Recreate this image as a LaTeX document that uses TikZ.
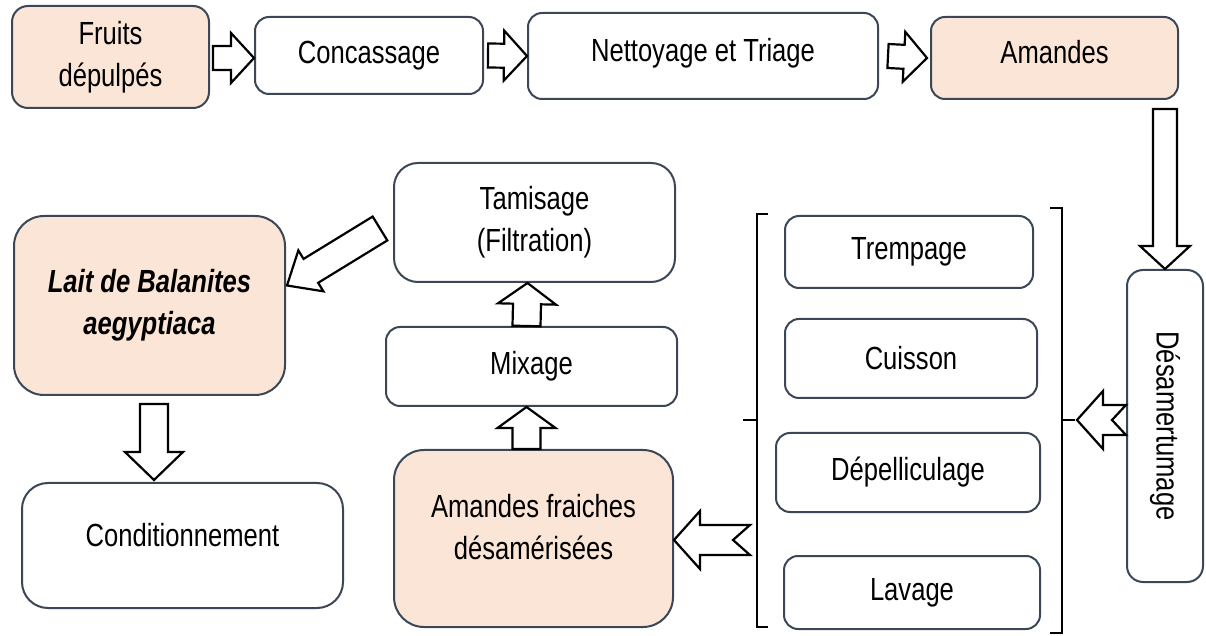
\documentclass[tikz,border=0pt]{standalone}
\usepackage{fontspec}
\setmainfont[FakeStretch=0.8]{Liberation Sans}
\usepackage{graphicx}
\usetikzlibrary{calc}

\definecolor{peach}{HTML}{FBE5D6}
\definecolor{edge}{HTML}{3B4656}

% block arrow sizes (changed before some arrows)
\def\shaftw{7pt}\def\headw{14pt}\def\headl{12.5pt}
% \blockarrow[notch]{(from)}{(to)}
\newcommand{\blockarrow}[3][0pt]{%
  \coordinate (ba-s) at #2;
  \coordinate (ba-e) at #3;
  \coordinate (ba-m) at ($(ba-e)!\headl!(ba-s)$);
  \draw[blockarrow] ($(ba-s)!\shaftw!90:(ba-e)$)
    -- ($(ba-m)!\shaftw!-90:(ba-s)$) -- ($(ba-m)!\headw!-90:(ba-s)$)
    -- (ba-e)
    -- ($(ba-m)!\headw!90:(ba-s)$) -- ($(ba-m)!\shaftw!90:(ba-s)$)
    -- ($(ba-s)!\shaftw!-90:(ba-e)$) -- ($(ba-s)!#1!(ba-e)$) -- cycle;
}

\begin{document}
\begin{tikzpicture}[
    x=0.5pt, y=-0.5pt,
    font=\fontsize{16}{21}\selectfont,
    box/.style={rectangle, rounded corners=#1, draw=edge, line width=1pt,
        fill=white, align=center, inner sep=0pt},
    box/.default=7pt,
    dims/.style 2 args={minimum width=#1*0.5pt, minimum height=#2*0.5pt},
    blockarrow/.style={draw=black, line width=1.1pt, fill=white, line join=miter},
    bracket/.style={draw=black, line width=1.1pt},
]
\useasboundingbox (0,0) rectangle (1206,636);

% top row
\node[box=8pt, fill=peach, dims={197}{102}] (fruits) at (110.5,57) {Fruits\\dépulpés};
\node[box, dims={228}{77}] (concass) at (369,55.5) {Concassage};
\node[box, dims={350}{86}, label={[yshift=1.5pt]center:Nettoyage et Triage}]
    (nettoy) at (703,56) {};
\node[box, fill=peach, dims={247}{82}, label={[yshift=3pt]center:Amandes}]
    (amandes) at (1054.5,58) {};

% right column
\node[box=8pt, dims={76}{312}] (desamer) at (1165,426) {\rotatebox{-90}{Désamertumage}};

% steps of the debittering
\node[box, dims={248}{72}] (trempage) at (909,252) {Trempage};
\node[box, dims={252}{79}] (cuisson) at (911,358.5) {Cuisson};
\node[box, dims={264}{79}] (depell) at (908,472.5) {Dépelliculage};
\node[box, dims={256}{73}] (lavage) at (912,592.5) {Lavage};

\draw[bracket] (768,214) -- (757,214) -- (757,627) -- (768,627);
\draw[bracket] (1050,208) -- (1062,208) -- (1062,633) -- (1050,633);
\coordinate (lbr) at (757,420);
\coordinate (rtick) at (1075,420);
\draw[bracket] (lbr) -- ++(-14,0);
\draw[bracket] (1062,420) -- (rtick);

% middle column
\node[box=15pt, fill=peach, dims={279}{177},
    label={[align=center, yshift=5.5pt]center:Amandes fraiches\\désamérisées}]
    (fraiches) at (533.5,538.5) {};
\node[box, dims={291}{79}] (mixage) at (531.5,366.5) {Mixage};
\node[box=12pt, dims={281}{119}] (tamisage) at (534.5,222.5) {Tamisage\\(Filtration)};

% left column
\node[box=15pt, fill=peach, dims={271}{179}] (lait) at (149.5,305.5)
    {\bfseries\itshape Lait de Balanites\\\bfseries\itshape aegyptiaca};
\node[box=13pt, dims={321}{125}, label={[yshift=5pt]center:Conditionnement}]
    (condit) at (182.5,545.5) {};

% arrows
\def\shaftw{6pt}\def\headw{12.5pt}\def\headl{11.5pt}
\blockarrow{($(fruits.east)+(3,1)$)}{($(concass.west)+(0,2.5)$)}
\blockarrow{($(concass.east)+(4,0)$)}{($(nettoy.west)+(0,0)$)}
\blockarrow{($(nettoy.east)+(9,0)$)}{($(amandes.west)+(-3,0)$)}
\blockarrow{($(amandes.south -| desamer.north)+(0,9)$)}{(desamer.north)}

\def\shaftw{7.5pt}\def\headw{14.5pt}\def\headl{13pt}
\blockarrow[7pt]{(desamer.west |- rtick)}{($(rtick)+(2,0)$)}
\blockarrow[8.5pt]{($(lbr |- fraiches.east)+(-7,1.5)$)}{($(fraiches.east)+(0,1.5)$)}

\def\shaftw{7pt}\def\headw{14.5pt}\def\headl{10.5pt}
\blockarrow{($(fraiches.north)+(-7,0)$)}{($(mixage.south)+(-5,0)$)}
\blockarrow{($(mixage.north)+(-5,0)$)}{($(tamisage.south)+(-7,0)$)}

\def\shaftw{7pt}\def\headw{12pt}\def\headl{14pt}
\blockarrow{($(tamisage.west)+(-13,6)$)}{($(lait.east)+(1,-20)$)}

\def\shaftw{7pt}\def\headw{14.5pt}\def\headl{14pt}
\blockarrow{($(lait.south)+(4.5,8)$)}{($(lait.south |- condit.north)+(4.5,-2)$)}

\end{tikzpicture}
\end{document}
